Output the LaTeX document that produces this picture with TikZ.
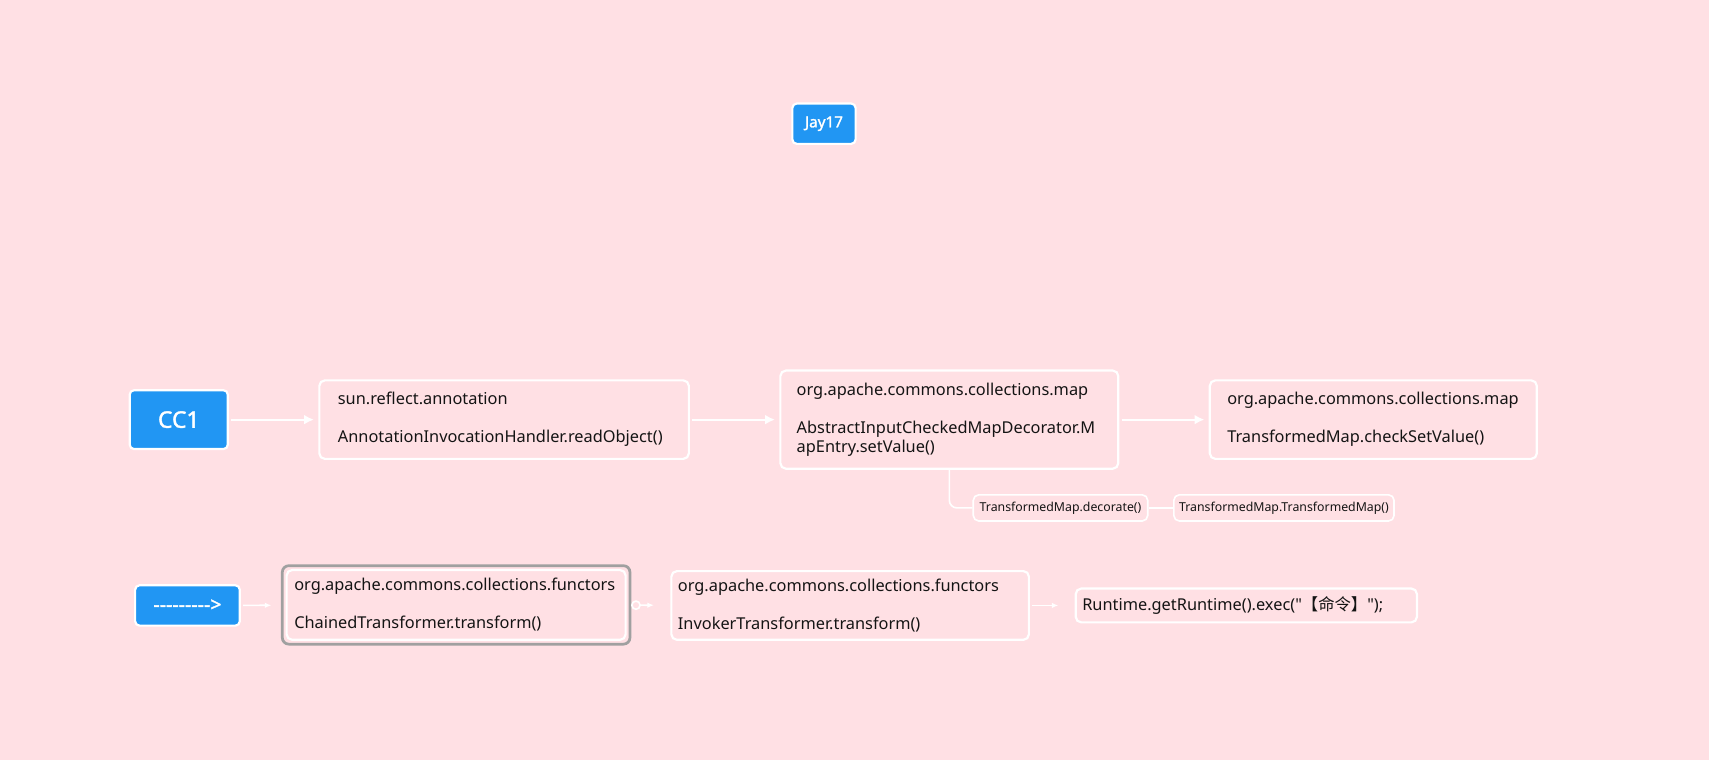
\documentclass[tikz,border=0pt]{standalone}
\usepackage{fontspec}
\setmainfont{Noto Sans}
\newfontfamily\codefont{Noto Sans}
\newfontfamily\tagfont[FakeBold=1.6]{Noto Sans}
\newfontfamily\cjk{Noto Sans CJK SC}
\usetikzlibrary{arrows.meta,positioning}
\definecolor{bgpink}{RGB}{255,224,228}
\definecolor{ccblue}{RGB}{33,150,243}
\definecolor{framegray}{RGB}{160,160,160}
\tikzset{
	tag/.style={fill=ccblue, draw=white, line width=2pt, rounded corners=4pt, text=white, inner sep=0pt, font=\tagfont\fontsize{14}{16}\selectfont},
	code/.style={draw=white, line width=2pt, rounded corners=5pt, align=left, inner ysep=0pt, text=black!92, font=\codefont\fontsize{15}{17.5}\selectfont},
	call/.style={draw=white, line width=1.5pt, rounded corners=5pt, inner sep=0pt, text=black!92, font=\codefont\fontsize{11.3}{13}\selectfont},
	link/.style={draw=white, line width=2pt, shorten <=2pt, shorten >=4pt, -{Latex[length=9pt,width=9pt]}},
	minilink/.style={link, line width=1.5pt, -{Latex[length=6pt,width=5pt]}},
}
\begin{document}
\begin{tikzpicture}[x=1pt, y=-1pt]
	%background
	\fill[bgpink] (0,0) rectangle (1568,697);
	\useasboundingbox (0,0) rectangle (1568,697);
	%tags
	\node[tag, minimum width=58pt, minimum height=37pt] (jay) at (756,113.5) {Jay17};
	\node[tag, minimum width=90pt, minimum height=54pt, font=\tagfont\fontsize{21}{24}\selectfont] (cc) at (164,385) {CC1};
	\node[tag, minimum width=96pt, minimum height=37pt, font=\tagfont\fontsize{18}{18}\selectfont] (dash) at (172,555.5) {-{}-{}-{}-{}-{}-{}-{}-{}-{}>};
	%first row
	\node[code, minimum width=339pt, minimum height=72pt, text width=305pt, inner xsep=17pt] (anno) at (462.5,385)
	{sun.reflect.annotation\\[17.5pt]AnnotationInvocationHandler.readObject()};
	\node[code, minimum width=310pt, minimum height=90pt, text width=280pt, inner xsep=15pt] (decor) at (871,385)
	{org.apache.commons.collections.map\\[17.5pt]AbstractInputCheckedMapDecorator.M\\apEntry.setValue()};
	\node[code, minimum width=300pt, minimum height=72pt, text width=268pt, inner xsep=16pt] (check) at (1260,385)
	{org.apache.commons.collections.map\\[17.5pt]TransformedMap.checkSetValue()};
	\node[call, minimum width=160pt, minimum height=24pt] (deco) at (973,466) {TransformedMap.decorate()};
	\node[call, minimum width=202pt, minimum height=24pt] (tmap) at (1178,466) {TransformedMap.TransformedMap()};
	%second row
	\node[code, minimum width=311pt, minimum height=64pt, text width=297pt, inner xsep=7pt] (chain) at (418.5,555)
	{org.apache.commons.collections.functors\\[17.5pt]ChainedTransformer.transform()};
	\draw[framegray, line width=2.5pt, rounded corners=6pt] ([shift={(-3pt,3pt)}]chain.north west) rectangle ([shift={(3pt,-3pt)}]chain.south east);
	\node[code, minimum width=328pt, minimum height=63pt, text width=316pt, inner xsep=6pt] (invoker) at (780,555.5)
	{org.apache.commons.collections.functors\\[17.5pt]InvokerTransformer.transform()};
	\node[code, minimum width=313pt, minimum height=31pt, text width=301pt, inner xsep=6pt] (runtime) at (1143.5,555.5)
	{Runtime.getRuntime().exec("{\cjk 【命令】}");};
	%links
	\draw[link] (cc) -- (anno);
	\draw[link] (anno) -- (decor);
	\draw[link] (decor) -- (check);
	\draw[white, line width=1.5pt, rounded corners=7pt] (decor.south) |- (deco.west);
	\draw[white, line width=1.5pt] (deco) -- (tmap);
	\draw[minilink, shorten >=13pt] (dash) -- (chain);
	\draw[minilink, {Circle[open,length=9pt,width=9pt]}-{Latex[length=6pt,width=5pt]}, shorten <=4pt, shorten >=15pt] (chain) -- (invoker);
	\draw[minilink, shorten >=15pt] (invoker) -- (runtime);
\end{tikzpicture}
\end{document}
